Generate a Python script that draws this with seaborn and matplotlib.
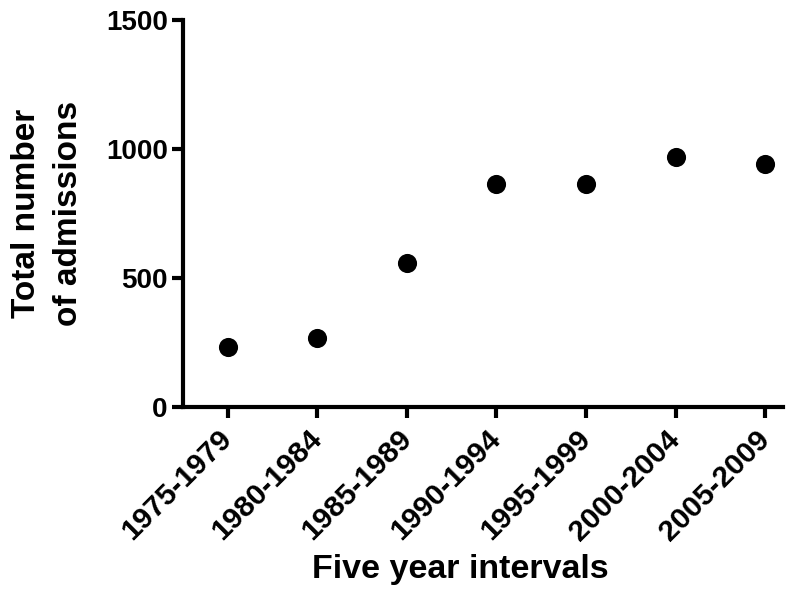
import matplotlib
matplotlib.use("Agg")
import matplotlib.pyplot as plt
import seaborn as sns
import pandas as pd

categories = ["1975-1979", "1980-1984", "1985-1989", "1990-1994",
              "1995-1999", "2000-2004", "2005-2009"]
admissions = [231, 266, 557, 864, 864, 969, 942]
y_ticks = [0, 500, 1000, 1500]

sns.set_style("ticks")
plt.rcParams['font.family'] = ['Liberation Sans', 'DejaVu Sans']
plt.rcParams['font.weight'] = 'bold'
plt.rcParams['text.color'] = 'black'
plt.rcParams['axes.labelcolor'] = 'black'
plt.rcParams['xtick.color'] = 'black'
plt.rcParams['ytick.color'] = 'black'

df = pd.DataFrame({"interval": categories, "admissions": admissions})

fig = plt.figure(figsize=(8.01, 5.90), dpi=100)
ax = fig.add_axes([0.2285, 0.310, 0.749, 0.656])
sns.scatterplot(data=df, x="interval", y="admissions", ax=ax,
                color="black", s=190, edgecolor="black", linewidth=0, legend=False)

ax.set_xlim(-0.5, 6.2)
ax.set_ylim(0, 1500)
ax.set_yticks(y_ticks)
ax.set_xticks(range(len(categories)))
ax.set_xticklabels(categories, rotation=45, ha="right", va="center",
                   rotation_mode="anchor", fontsize=21.5, fontweight="bold")
ax.set_yticklabels([str(v) for v in y_ticks], fontsize=20, fontweight="bold")
ax.tick_params(axis="both", length=8, width=3, color="black", pad=3)
ax.tick_params(axis="x", pad=12)

for s in ["top", "right"]:
    ax.spines[s].set_visible(False)
for s in ["left", "bottom"]:
    ax.spines[s].set_linewidth(3)
    ax.spines[s].set_color("black")

ax.set_xlabel("Five year intervals", fontsize=24.5, fontweight="bold")
ax.xaxis.set_label_coords(0.462, -0.38)
ax.xaxis.label.set_va("top")
ax.set_ylabel("Total number\nof admissions", fontsize=24, fontweight="bold",
              linespacing=1.45)
ax.yaxis.set_label_coords(-0.226, 0.5)
ax.yaxis.label.set_va("center")
ax.yaxis.label.set_ha("center")

fig.savefig("out.png", dpi=100)
